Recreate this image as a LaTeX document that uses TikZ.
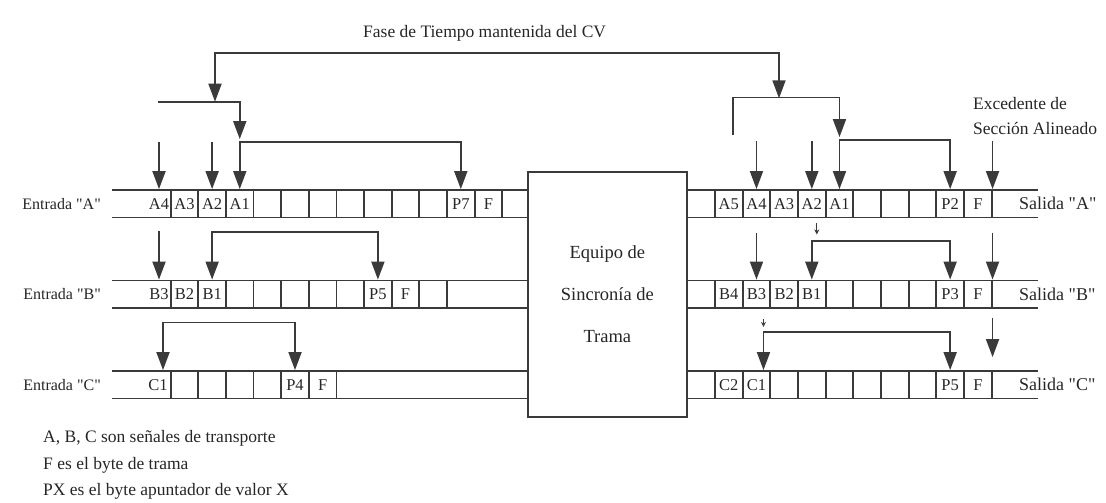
\documentclass[tikz,border=0pt]{standalone}
\usepackage{fontspec}
\setmainfont{Liberation Serif}
\usetikzlibrary{arrows.meta}
\definecolor{scInk}{HTML}{3A3A3A}
\definecolor{scText}{HTML}{262626}
\tikzset{
  rail/.style={line width=1.8pt, draw=scInk},
  cel/.style={draw=scInk, line width=1.8pt, minimum width=27.63pt, minimum height=27.5pt, inner sep=0pt, text=scText, font=\fontsize{16.5}{16.5}\selectfont},
  celn/.style={cel, draw=none},
  rowlbl/.style={inner sep=0pt, text=scText, font=\fontsize{16}{16}\selectfont},
  note/.style={inner sep=0pt, text=scText, font=\fontsize{17.5}{25}\selectfont, align=left},
  syncbox/.style={draw=scInk, line width=1.8pt, minimum width=158.7pt, minimum height=245pt, align=center, text=scText, font=\fontsize{18.5}{42}\selectfont},
  arr/.style={-{Triangle[width=13pt,length=18pt]}, line width=1.8pt, draw=scInk},
  barr/.style={{Triangle[width=13pt,length=18pt]}-{Triangle[width=13pt,length=18pt]}, line width=1.8pt, draw=scInk},
  sarr/.style={-{Stealth[width=5pt,length=5pt]}, line width=0.9pt, draw=scInk},
}
\begin{document}
\begin{tikzpicture}[x=1pt, y=-1pt]
  \useasboundingbox (0,0) rectangle (1106,503);
  \node[syncbox] (sync) at (607.35,294.2) {Equipo de\\Sincronía de\\Trama};
  % rails
  \draw[rail] (112,190) -- (528,190) (112,217.5) -- (528,217.5)
              (112,280.5) -- (528,280.5) (112,308) -- (528,308)
              (112,371) -- (528,371) (112,398.5) -- (528,398.5);
  \draw[rail] (686.7,190) -- (1038.3,190) (686.7,217.5) -- (1038.3,217.5)
              (686.7,280.5) -- (1038.3,280.5) (686.7,308) -- (1038.3,308)
              (686.7,371) -- (1038.3,371) (686.7,398.5) -- (1038.3,398.5);
  % entradas
  \node[rowlbl, anchor=east] (inA) at (101,203.75) {Entrada \textquotedbl A\textquotedbl};
  \node[rowlbl, anchor=east] (inB) at (101,294.25) {Entrada \textquotedbl B\textquotedbl};
  \node[rowlbl, anchor=east] (inC) at (101,384.75) {Entrada \textquotedbl C\textquotedbl};
  \node[celn] (a4in) at (159,203.75) {A4};
  \node[celn] (b3in) at (159,294.25) {B3};
  \node[celn] (c1in) at (158,384.75) {C1};
  \foreach \c/\t in {0/A3,1/A2,2/A1,3/,4/,5/,6/,7/,8/,9/,10/P7,11/F}
    \node[cel] (ain\c) at ({184.5+27.63*\c},203.75) {\t};
  \foreach \c/\t in {0/B2,1/B1,2/,3/,4/,5/,6/,7/P5,8/F,9/}
    \node[cel] (bin\c) at ({184.5+27.63*\c},294.25) {\t};
  \foreach \c/\t in {0/,1/,2/,3/,4/P4,5/F}
    \node[cel] (cin\c) at ({184.5+27.63*\c},384.75) {\t};
  % salidas
  \foreach \c/\t in {0/A5,1/A4,2/A3,3/A2,4/A1,5/,6/,7/,8/P2,9/F}
    \node[cel] (aout\c) at ({728.8+27.67*\c},203.75) {\t};
  \foreach \c/\t in {0/B4,1/B3,2/B2,3/B1,4/,5/,6/,7/,8/P3,9/F}
    \node[cel] (bout\c) at ({728.8+27.67*\c},294.25) {\t};
  \foreach \c/\t in {0/C2,1/C1,2/,3/,4/,5/,6/,7/,8/P5,9/F}
    \node[cel] (cout\c) at ({728.8+27.67*\c},384.75) {\t};
  \node[rowlbl, anchor=west, font=\fontsize{18}{18}\selectfont] (outA) at (1019,203.75) {Salida \textquotedbl A\textquotedbl};
  \node[rowlbl, anchor=west, font=\fontsize{18}{18}\selectfont] (outB) at (1019,294.25) {Salida \textquotedbl B\textquotedbl};
  \node[rowlbl, anchor=west, font=\fontsize{18}{18}\selectfont] (outC) at (1019,384.75) {Salida \textquotedbl C\textquotedbl};
  % fase del CV
  \node[note, anchor=west] (title) at (363,33) {Fase de Tiempo mantenida del CV};
  \coordinate (lsub) at (215,101.7);
  \coordinate (rsub) at (779,98.3);
  \coordinate (lsubw) at (158,101.7);
  \coordinate (rsubw) at (732.7,135);
  \draw[barr] (lsub) -- ++(0,-48.7) -| (rsub);
  \draw[arr] (lsubw) -| ([yshift=50pt]ain2.north);
  \draw[arr] (rsubw) |- ([yshift=91.7pt]aout4.north) -- ([yshift=52pt]aout4.north);
  % punteros entrada
  \draw[barr] (ain2.north) -- ++(0,-47) -| (ain10.north);
  \draw[arr] ([yshift=47pt]a4in.north) -- (a4in.north);
  \draw[arr] ([yshift=47pt]ain1.north) -- (ain1.north);
  \draw[barr] (bin1.north) -- ++(0,-47.5) -| (bin7.north);
  \draw[arr] ([yshift=49pt]b3in.north) -- (b3in.north);
  \draw[barr] ([xshift=5pt]c1in.north) -- ++(0,-47.7) -| (cin4.north);
  % punteros salida
  \draw[barr] (aout4.north) -- ++(0,-49) -| (aout8.north);
  \draw[arr] ([yshift=48pt]aout1.north) -- (aout1.north);
  \draw[arr] ([yshift=48pt]aout3.north) -- (aout3.north);
  \draw[arr] ([yshift=48pt]aout9.north east) -- (aout9.north east);
  \draw[sarr] ([xshift=5pt,yshift=-5pt]aout3.south) -- ([xshift=5pt,yshift=-16pt]aout3.south);
  \draw[barr] (bout3.north) -- ++(0,-38.5) -| (bout8.north);
  \draw[arr] ([yshift=47pt]bout1.north) -- (bout1.north);
  \draw[arr] ([yshift=47pt]bout9.north east) -- (bout9.north east);
  \draw[sarr] ([xshift=7pt,yshift=-10pt]bout1.south) -- ([xshift=7pt,yshift=-18pt]bout1.south);
  \draw[barr] ([xshift=7pt]cout1.north) -- ++(0,-38) -| (cout8.north);
  \draw[arr] ([yshift=-9pt]bout9.south east) -- ([yshift=13pt]cout9.north east);
  \node[note, anchor=west] (exced) at (973,115.8) {Excedente de\\Sección Alineado};
  % leyenda
  \node[note, anchor=west] (leg1) at (43,438) {A, B, C son señales de transporte};
  \node[note, anchor=west] (leg2) at (43,465) {F es el byte de trama};
  \node[note, anchor=west] (leg3) at (43,491) {PX es el byte apuntador de valor X};
\end{tikzpicture}
\end{document}
